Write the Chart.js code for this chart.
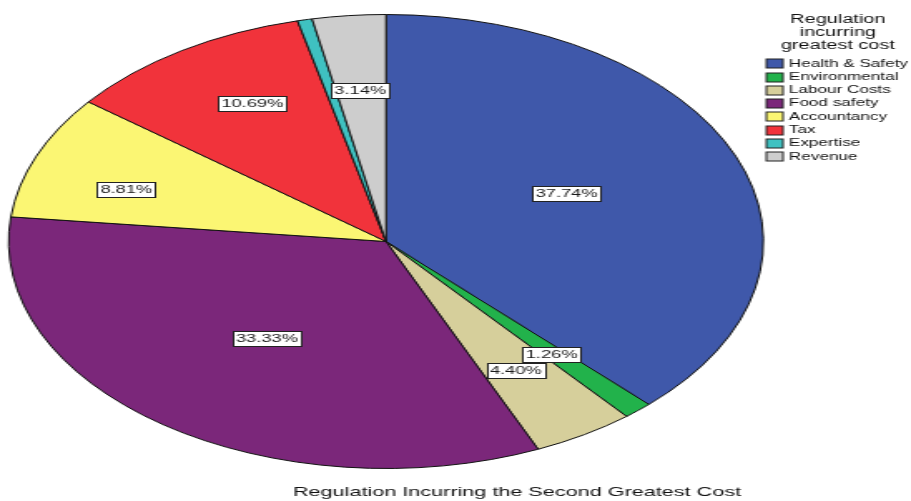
<!DOCTYPE html>
<html><head><meta charset="utf-8">
<script src="https://cdn.jsdelivr.net/npm/chart.js@4/dist/chart.umd.min.js"></script>
<style>
html,body{margin:0;padding:0;background:#fff;overflow:hidden;width:911px;height:501px}
#wrap{position:absolute;left:0;top:0;width:548px;height:501px;transform:scale(1.6624,1);transform-origin:0 0}
canvas{display:block}
</style></head>
<body><div id="wrap"><canvas id="c" width="548" height="501"></canvas></div>
<script>
// ---- data ----
const categories = ['Health & Safety','Environmental','Labour Costs','Food safety','Accountancy','Tax','Expertise','Revenue'];
const percentages = [37.74, 1.26, 4.40, 33.33, 8.81, 10.69, 0.63, 3.14];
const showLabel = [true, true, true, true, true, true, false, true];
const legendTitle = ['Regulation','incurring','greatest cost'];
const chartTitle = 'Regulation Incurring the Second Greatest Cost';

// ---- styles ----
const colors = ['#3F58AA','#22B24B','#D6CF9B','#7B277A','#FBF673','#F1333B','#3FC1C1','#CDCDCD'];
const labelRadius = [0.523, 0.664, 0.664, 0.531, 0.725, 0.704, 0.6, 0.669];
const labelAngleShift = [-1.7, 0.5, 0.5, 0.2, -3.7, 2.6, 0, -0.2];
const FONT = '"Liberation Sans", Arial, sans-serif';

const overlay = {
  id: 'overlay',
  afterDatasetsDraw(chart) {
    const ctx = chart.ctx;
    const meta = chart.getDatasetMeta(0);
    ctx.save();
    ctx.font = '11px ' + FONT;
    ctx.textAlign = 'center';
    ctx.textBaseline = 'middle';
    meta.data.forEach((arc, i) => {
      if (!showLabel[i]) return;
      const p = arc.getProps(['x','y','startAngle','endAngle','outerRadius'], true);
      const mid = (p.startAngle + p.endAngle) / 2 + labelAngleShift[i] * Math.PI / 180;
      const r = p.outerRadius * labelRadius[i];
      const x = p.x + Math.cos(mid) * r;
      const y = p.y + Math.sin(mid) * r;
      const txt = percentages[i].toFixed(2) + '%';
      const w = ctx.measureText(txt).width + 4;
      const h = 15;
      ctx.fillStyle = '#ffffff';
      ctx.fillRect(Math.round(x - w/2) + 0.5, Math.round(y - h/2) + 0.5, Math.round(w), h);
      ctx.strokeStyle = '#222';
      ctx.lineWidth = 1;
      ctx.strokeRect(Math.round(x - w/2) + 0.5, Math.round(y - h/2) + 0.5, Math.round(w), h);
      ctx.fillStyle = '#1a1a1a';
      ctx.fillText(txt, x, y + 0.5);
    });
    ctx.restore();
  },
  afterDraw(chart) {
    const ctx = chart.ctx;
    ctx.save();
    // legend title
    ctx.fillStyle = '#111';
    ctx.textAlign = 'center';
    ctx.textBaseline = 'alphabetic';
    ctx.font = '12px ' + FONT;
    legendTitle.forEach((t, i) => ctx.fillText(t, 504, 23 + i * 13));
    // legend items
    ctx.font = '10.3px ' + FONT;
    ctx.textAlign = 'left';
    ctx.textBaseline = 'middle';
    categories.forEach((c, i) => {
      const y = 63.7 + i * 13.3;
      ctx.fillStyle = colors[i];
      ctx.fillRect(461, Math.round(y - 4.5), 10, 9);
      ctx.strokeStyle = '#222';
      ctx.lineWidth = 1;
      ctx.strokeRect(461, Math.round(y - 4.5), 10, 9);
      ctx.fillStyle = '#111';
      ctx.fillText(c, 474.6, y);
    });
    // bottom title
    ctx.font = '13px ' + FONT;
    ctx.textAlign = 'center';
    ctx.fillText(chartTitle, 311, 492.5);
    ctx.restore();
  }
};

new Chart(document.getElementById('c'), {
  type: 'pie',
  data: {
    labels: categories,
    datasets: [{
      data: percentages,
      backgroundColor: colors,
      borderColor: '#111',
      borderWidth: 1
    }]
  },
  options: {
    responsive: false,
    animation: false,
    devicePixelRatio: 1,
    layout: { padding: { left: 4.7, right: 88.3, top: 14, bottom: 32 } },
    plugins: { legend: { display: false }, tooltip: { enabled: false }, title: { display: false } }
  },
  plugins: [overlay]
});
</script>
</body></html>
